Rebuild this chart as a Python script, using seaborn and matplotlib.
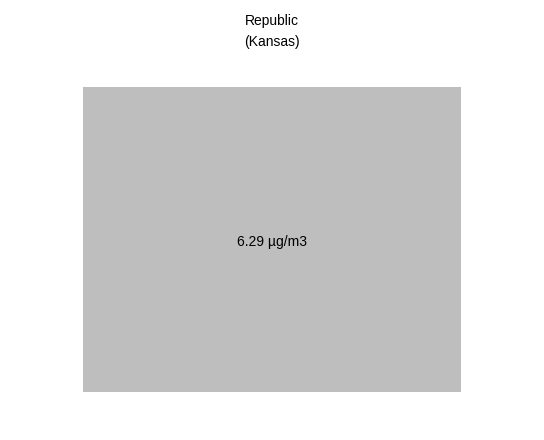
import matplotlib
matplotlib.use("Agg")
import matplotlib.pyplot as plt
from matplotlib.colors import ListedColormap
import seaborn as sns
import numpy as np
import pandas as pd

sns.set_style("white")
plt.rcParams['font.family'] = ['Liberation Sans', 'DejaVu Sans']
plt.rcParams['text.color'] = 'black'

locations = ["Republic"]
states = ["Kansas"]
values = [6.29]
unit = "µg/m3"

df = pd.DataFrame([values], index=[""], columns=[""])
annot = np.array([[f"{v:.2f} {unit}" for v in values]])

fig = plt.figure(figsize=(5.44, 4.40), dpi=100)
ax = fig.add_axes([83/544, 1 - 392/440, 378/544, 305/440])
sns.heatmap(df, ax=ax, cmap=ListedColormap(["#bebebe"]), cbar=False,
            annot=annot, fmt="", annot_kws={"fontsize": 10, "color": "black"},
            xticklabels=False, yticklabels=False)
for t in ax.texts:
    x, y = t.get_position()
    t.set_position((x, y + 0.007))
ax.set_xlabel("")
ax.set_ylabel("")
for s in ax.spines.values():
    s.set_visible(False)

fig.text(272/544, 1 - 21/440, locations[0], ha="center", va="center", fontsize=10, color="black")
fig.text(272/544, 1 - 42/440, f"({states[0]})", ha="center", va="center", fontsize=10, color="black")

fig.savefig("out.png", dpi=100)
